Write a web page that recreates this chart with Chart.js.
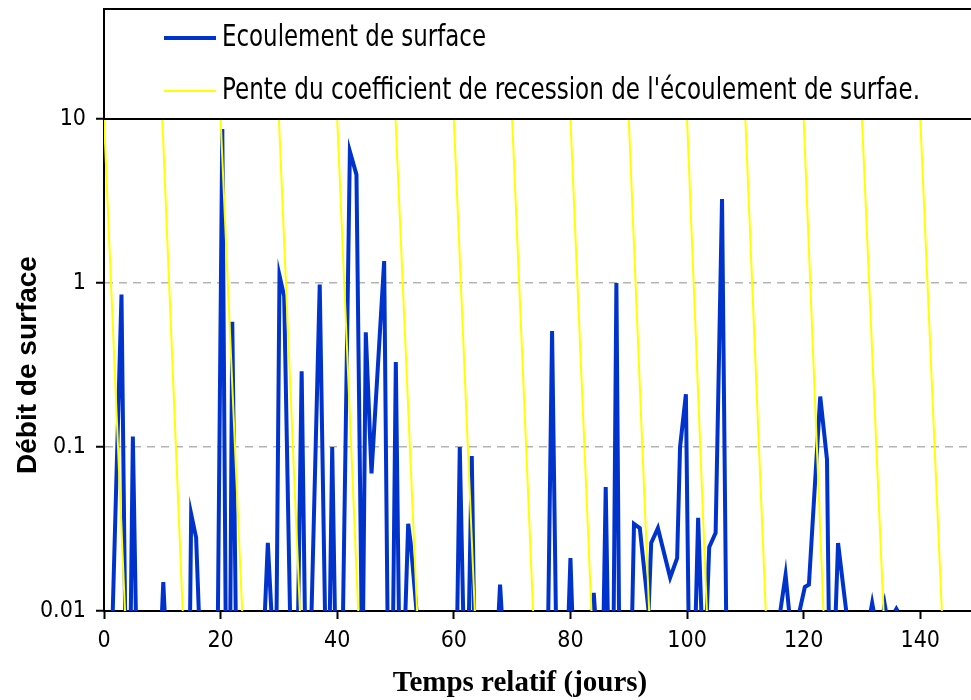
<!DOCTYPE html>
<html lang="fr">
<head>
<meta charset="UTF-8">
<title>Débit de surface</title>
<script src="https://cdn.jsdelivr.net/npm/chart.js@4"></script>
<style>
  body { margin: 0; background: #fff; }
  #wrap { width: 971px; height: 700px; }
</style>
</head>
<body>
<div id="wrap"><canvas id="debitChart" width="971" height="700"></canvas></div>
<script>
// Ecoulement de surface : sommets de la courbe (jours, débit). null = coupure sous 0.01
const jours = [
  1.5, 3.0, 3.62, 3.62,
  4.6, 4.95, 5.46, 5.46,
  9.95, 10.17, 10.4, 10.4,
  14.77, 14.95, 15.8, 16.26, 16.26,
  19.54, 20.29, 20.86, 20.86,
  21.67, 22.0, 22.59, 22.59,
  27.6, 28.1, 28.7, 28.7,
  29.6, 30.1, 30.9, 31.9, 31.9,
  33.3, 33.9, 34.45, 34.45,
  35.6, 37.0, 37.9, 37.9,
  38.74, 39.14, 39.6, 39.6,
  41.0, 42.17, 43.3, 44.17, 44.17,
  44.45, 44.9, 45.88, 48.05, 48.62, 48.62,
  49.6, 50.05, 50.57, 50.57,
  51.7, 52.17, 52.6, 53.6, 53.6,
  60.6, 61.02, 61.6, 61.6,
  62.6, 63.08, 63.45, 63.45,
  67.7, 67.93, 68.2, 68.2,
  76.2, 76.85, 77.5, 77.5,
  79.7, 80.0, 80.3, 80.3,
  83.8, 84.0, 84.2, 84.2,
  85.7, 86.05, 86.4, 86.4,
  87.42, 87.88, 88.33, 88.33,
  90.6, 90.9, 91.9, 93.4, 93.85, 95.0, 97.1, 98.3, 98.8, 99.8, 100.25, 100.25,
  101.5, 101.9, 102.45, 102.45,
  103.4, 103.8, 104.9, 106.0, 106.7, 106.7,
  116.0, 116.9, 117.5, 117.5,
  119.3, 120.2, 120.9, 122.84, 124.0, 124.3, 124.3,
  125.5, 125.9, 126.8, 127.3, 127.3,
  131.5, 131.75, 132.0, 132.0,
  133.7, 133.9, 134.1, 134.1,
  135.7, 135.9, 136.1
];
const debit = [
  0.01, 0.85, 0.01, null,
  0.01, 0.116, 0.01, null,
  0.01, 0.015, 0.01, null,
  0.01, 0.039, 0.028, 0.01, null,
  0.01, 8.7, 0.01, null,
  0.01, 0.58, 0.01, null,
  0.01, 0.026, 0.01, null,
  0.01, 1.11, 0.83, 0.01, null,
  0.01, 0.29, 0.01, null,
  0.01, 0.98, 0.01, null,
  0.01, 0.1, 0.01, null,
  0.01, 6.35, 4.58, 0.01, null,
  0.01, 0.5, 0.069, 1.36, 0.01, null,
  0.01, 0.33, 0.01, null,
  0.01, 0.034, 0.026, 0.01, null,
  0.01, 0.1, 0.01, null,
  0.01, 0.088, 0.01, null,
  0.01, 0.0145, 0.01, null,
  0.01, 0.51, 0.01, null,
  0.01, 0.021, 0.01, null,
  0.01, 0.0129, 0.01, null,
  0.01, 0.057, 0.01, null,
  0.01, 1.0, 0.01, null,
  0.01, 0.034, 0.032, 0.01, 0.026, 0.032, 0.016, 0.021, 0.1, 0.21, 0.01, null,
  0.01, 0.037, 0.01, null,
  0.01, 0.0245, 0.030, 3.25, 0.01, null,
  0.01, 0.0166, 0.01, null,
  0.01, 0.014, 0.0145, 0.203, 0.084, 0.01, null,
  0.01, 0.026, 0.014, 0.01, null,
  0.01, 0.0112, 0.01, null,
  0.01, 0.011, 0.01, null,
  0.01, 0.0103, 0.01
];

// Droites de récession : départ à 10, arrivée à 0.01
const penteDebut = [0, 10, 20, 30, 40, 50, 60, 70, 80, 90, 100, 110, 120, 130, 140];
const penteFin = [3.6, 13.5, 23.7, 33.6, 43.6, 53.7, 63.6, 73.6, 83.6, 93.5, 103.4, 113.5, 123.4, 133.7, 143.7];
const penteHaut = 10;
const penteBas = 0.01;

const xTicks = [0, 20, 40, 60, 80, 100, 120, 140];
const yTicks = [0.01, 0.1, 1, 10];
const yLabels = ['0.01', '0.1', '1', '10'];

const policeEtroite = "'Liberation Sans Narrow', 'Arial Narrow', 'DejaVu Sans Condensed', sans-serif";

const pointsDebit = jours.map((x, i) => ({ x: x, y: debit[i] }));
const pointsPente = [];
penteDebut.forEach((x0, i) => {
  pointsPente.push({ x: x0, y: penteHaut });
  pointsPente.push({ x: penteFin[i], y: penteBas });
  pointsPente.push({ x: penteFin[i], y: null });
});

// fond blanc, cadre de légende au-dessus du graphe et titre de l'axe X
const habillage = {
  id: 'habillage',
  beforeDraw(chart) {
    const ctx = chart.ctx;
    ctx.save();
    ctx.fillStyle = '#fff';
    ctx.fillRect(0, 0, chart.width, chart.height);
    ctx.restore();
  },
  afterDraw(chart) {
    const ctx = chart.ctx;
    const area = chart.chartArea;
    ctx.save();
    ctx.strokeStyle = '#000';
    ctx.lineWidth = 2;
    ctx.strokeRect(area.left, 9, chart.width, area.top - 9);

    const largeurs = [264, 698];
    chart.data.datasets.forEach((ds, i) => {
      const y = 38 + i * 53;
      ctx.strokeStyle = ds.borderColor;
      ctx.lineWidth = ds.borderWidth;
      ctx.beginPath();
      ctx.moveTo(164, y);
      ctx.lineTo(216, y);
      ctx.stroke();
      ctx.fillStyle = '#000';
      ctx.font = '31px ' + policeEtroite;
      ctx.textBaseline = 'middle';
      ctx.textAlign = 'left';
      ctx.fillText(ds.label, 222, y, largeurs[i]);
    });

    ctx.font = "bold 29px 'Liberation Serif', serif";
    ctx.textAlign = 'center';
    ctx.textBaseline = 'middle';
    ctx.fillText('Temps relatif (jours)', 520, 684);
    ctx.restore();
  }
};

new Chart(document.getElementById('debitChart'), {
  type: 'line',
  data: {
    datasets: [{
      label: 'Ecoulement de surface',
      data: pointsDebit,
      borderColor: '#0033cc',
      borderWidth: 4,
      pointRadius: 0,
      tension: 0,
      spanGaps: false,
      clip: 0,
      order: 2
    }, {
      label: "Pente du coefficient de recession de l'écoulement de surfae.",
      data: pointsPente,
      borderColor: '#ffff00',
      borderWidth: 2,
      pointRadius: 0,
      tension: 0,
      spanGaps: false,
      clip: 0,
      order: 1
    }]
  },
  options: {
    responsive: false,
    animation: false,
    devicePixelRatio: 1,
    layout: { padding: { top: 119, left: 0, right: 0, bottom: 0 } },
    plugins: {
      legend: { display: false },
      tooltip: { enabled: false }
    },
    scales: {
      x: {
        type: 'linear',
        min: 0,
        max: 148.7,
        afterBuildTicks: s => { s.ticks = xTicks.map(v => ({ value: v })); },
        afterFit: s => { s.height = 89; },
        ticks: {
          color: '#000',
          padding: 8,
          maxRotation: 0,
          font: { family: policeEtroite, size: 23 },
          callback: v => String(v)
        },
        grid: { drawOnChartArea: false, color: '#000', tickColor: '#000', tickLength: 8, tickWidth: 2 },
        border: { color: '#000', width: 2 }
      },
      y: {
        type: 'logarithmic',
        min: 0.01,
        max: 10,
        afterBuildTicks: s => { s.ticks = yTicks.map(v => ({ value: v })); },
        afterFit: s => { s.width = 104; },
        ticks: {
          color: '#000',
          padding: 10,
          font: { family: policeEtroite, size: 23 },
          callback: (v, i) => yLabels[i]
        },
        grid: {
          color: c => (c.tick && (c.tick.value === 0.1 || c.tick.value === 1)) ? '#b4b4b4' : 'rgba(0,0,0,0)',
          lineWidth: 1.5,
          tickColor: '#000',
          tickLength: 8,
          tickWidth: 2
        },
        border: { color: '#000', width: 2, dash: [8, 6] },
        title: {
          display: true,
          text: 'Débit de surface',
          color: '#000',
          font: { family: "'Liberation Sans', sans-serif", size: 28, weight: 'bold' },
          padding: { top: 11, bottom: 0 }
        }
      }
    }
  },
  plugins: [habillage]
});
</script>
</body>
</html>
